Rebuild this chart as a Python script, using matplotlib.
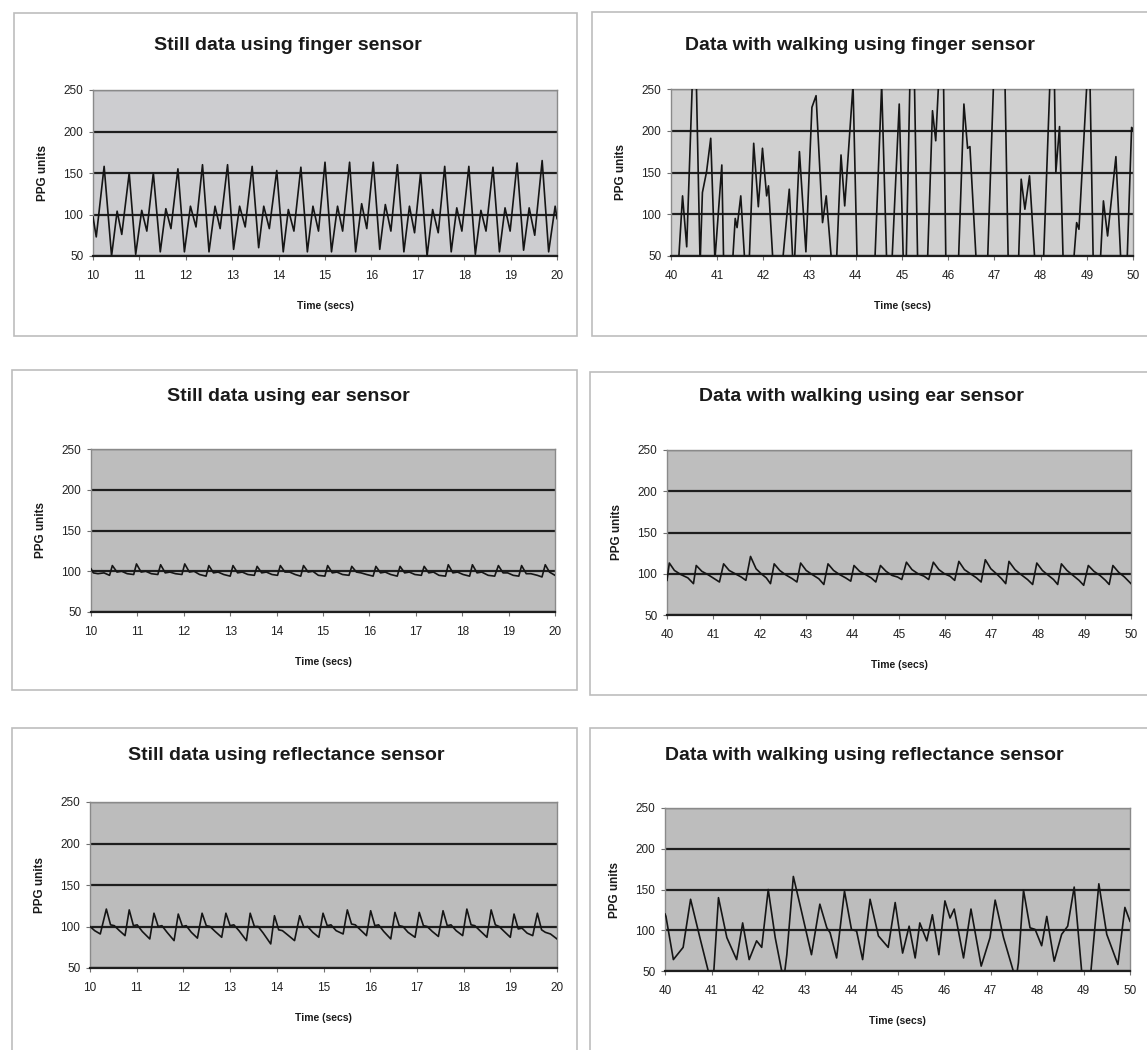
import matplotlib
matplotlib.use('Agg')
import matplotlib.pyplot as plt
from matplotlib.patches import Rectangle

plt.rcParams['font.family'] = ['Liberation Sans', 'DejaVu Sans']

# ---------------- data ----------------
still_ticks = list(range(10, 21))
walk_ticks = list(range(40, 51))
y_ticks = [50, 100, 150, 200, 250]

titles = ["Still data using finger sensor", "Data with walking using finger sensor",
          "Still data using ear sensor", "Data with walking using ear sensor",
          "Still data using reflectance sensor", "Data with walking using reflectance sensor"]
x_label = "Time (secs)"
y_label = "PPG units"

# Still, finger sensor
t1 = [10.00, 10.07,
      10.24, 10.40, 10.52, 10.62,
      10.78, 10.92, 11.05, 11.16,
      11.30, 11.45, 11.57, 11.68,
      11.83, 11.97, 12.10, 12.22,
      12.36, 12.50, 12.63, 12.74,
      12.90, 13.03, 13.16, 13.28,
      13.43, 13.57, 13.68, 13.80,
      13.96, 14.10, 14.21, 14.33,
      14.48, 14.62, 14.74, 14.86,
      15.00, 15.14, 15.27, 15.38,
      15.53, 15.66, 15.79, 15.90,
      16.04, 16.18, 16.30, 16.42,
      16.56, 16.70, 16.82, 16.93,
      17.06, 17.20, 17.32, 17.44,
      17.58, 17.72, 17.84, 17.95,
      18.10, 18.24, 18.36, 18.47,
      18.62, 18.76, 18.88, 18.99,
      19.14, 19.28, 19.40, 19.52,
      19.68, 19.82, 19.96, 20.00]
v1 = [97, 73,
      158, 50, 104, 76,
      150, 52, 105, 80,
      150, 55, 107, 83,
      155, 55, 110, 85,
      160, 55, 110, 83,
      160, 58, 110, 85,
      158, 60, 110, 83,
      153, 55, 106, 80,
      157, 55, 110, 80,
      163, 55, 110, 80,
      163, 55, 113, 83,
      163, 58, 112, 80,
      160, 55, 110, 78,
      150, 50, 106, 78,
      158, 55, 108, 80,
      158, 52, 105, 80,
      157, 55, 108, 80,
      162, 57, 108, 75,
      165, 55, 110, 95]

# Walking, finger sensor (values outside 50-250 are off-scale)
t2 = [40.00, 40.16, 40.25, 40.34, 40.46, 40.55, 40.63, 40.68, 40.77, 40.86, 40.95,
      41.10, 41.14, 41.33, 41.39, 41.43, 41.51, 41.60, 41.69, 41.79, 41.89, 41.98,
      42.07, 42.11, 42.21, 42.41, 42.56, 42.64, 42.67, 42.78, 42.92, 43.05, 43.14,
      43.28, 43.36, 43.48, 43.58, 43.68, 43.76, 43.94, 44.03, 44.41, 44.56, 44.67,
      44.78, 44.94, 45.03, 45.09, 45.17, 45.27, 45.34, 45.55, 45.66, 45.73, 45.79,
      45.90, 45.95, 46.22, 46.34, 46.42, 46.47, 46.61, 46.85, 46.98, 47.23, 47.30,
      47.52, 47.58, 47.66, 47.76, 47.88, 48.06, 48.20, 48.30, 48.33, 48.41, 48.49,
      48.71, 48.78, 48.83, 49.00, 49.07, 49.14, 49.29, 49.36, 49.45, 49.63, 49.74,
      49.87, 49.97, 50.00]
v2 = [30, 40, 122, 61, 255, 255, 40, 126, 151, 191, 45,
      159, 40, 40, 95, 84, 122, 40, 40, 185, 109, 179,
      122, 134, 40, 40, 130, 40, 40, 175, 55, 228, 242,
      90, 122, 40, 40, 171, 110, 255, 40, 40, 255, 40,
      40, 232, 40, 40, 255, 255, 40, 40, 224, 188, 255,
      255, 40, 40, 232, 179, 181, 40, 40, 255, 255, 40,
      40, 142, 106, 146, 40, 40, 255, 255, 150, 205, 40,
      40, 90, 82, 255, 255, 40, 40, 116, 74, 169, 40,
      40, 204, 200]

# Still, ear sensor
t3 = [10.00, 10.05, 10.15, 10.28,
      10.40, 10.46, 10.56, 10.66, 10.78,
      10.92, 10.98, 11.08, 11.18, 11.30,
      11.44, 11.50, 11.60, 11.70, 11.82,
      11.96, 12.02, 12.12, 12.22, 12.34,
      12.48, 12.54, 12.64, 12.74, 12.86,
      13.00, 13.06, 13.16, 13.26, 13.38,
      13.52, 13.58, 13.68, 13.78, 13.90,
      14.02, 14.08, 14.18, 14.28, 14.40,
      14.52, 14.58, 14.68, 14.78, 14.90,
      15.04, 15.10, 15.20, 15.30, 15.42,
      15.56, 15.62, 15.72, 15.82, 15.94,
      16.08, 16.14, 16.24, 16.34, 16.46,
      16.60, 16.66, 16.76, 16.86, 16.98,
      17.12, 17.18, 17.28, 17.38, 17.50,
      17.64, 17.70, 17.80, 17.90, 18.02,
      18.16, 18.22, 18.32, 18.42, 18.56,
      18.70, 18.78, 18.88, 18.98, 19.10,
      19.22, 19.28, 19.38, 19.48, 19.62,
      19.72, 19.79, 19.88, 20.00]
v3 = [103, 98, 97, 98,
      95, 107, 99, 100, 97,
      96, 109, 99, 100, 97,
      96, 108, 98, 99, 97,
      96, 109, 99, 100, 96,
      94, 107, 98, 99, 96,
      94, 107, 98, 99, 96,
      95, 106, 98, 99, 96,
      95, 107, 99, 99, 96,
      94, 107, 99, 100, 95,
      94, 107, 98, 99, 96,
      95, 106, 99, 98, 96,
      94, 106, 98, 99, 96,
      94, 106, 98, 99, 96,
      95, 106, 98, 99, 95,
      94, 108, 98, 99, 96,
      94, 108, 98, 99, 95,
      94, 107, 98, 98, 95,
      94, 107, 97, 97, 95,
      93, 108, 99, 95]

# Walking, ear sensor
t4 = [40.00,
      40.05, 40.16, 40.30, 40.45, 40.57,
      40.63, 40.75, 40.88, 41.02, 41.13,
      41.22, 41.34, 41.47, 41.60, 41.70,
      41.80, 41.92, 42.03, 42.14, 42.23,
      42.31, 42.43, 42.55, 42.70, 42.80,
      42.88, 43.00, 43.13, 43.27, 43.38,
      43.47, 43.59, 43.72, 43.85, 43.96,
      44.03, 44.15, 44.28, 44.40, 44.50,
      44.60, 44.72, 44.85, 44.97, 45.06,
      45.16, 45.28, 45.41, 45.54, 45.64,
      45.74, 45.86, 45.98, 46.10, 46.20,
      46.29, 46.41, 46.54, 46.67, 46.77,
      46.86, 46.98, 47.10, 47.21, 47.30,
      47.37, 47.50, 47.63, 47.77, 47.88,
      47.97, 48.09, 48.22, 48.33, 48.42,
      48.50, 48.62, 48.75, 48.88, 48.98,
      49.08, 49.20, 49.33, 49.45, 49.53,
      49.61, 49.73, 49.86, 50.00]
v4 = [92,
      113, 104, 99, 95, 88,
      110, 103, 99, 94, 90,
      112, 104, 100, 96, 92,
      121, 106, 100, 95, 88,
      112, 104, 99, 94, 90,
      113, 104, 99, 94, 87,
      112, 104, 99, 95, 91,
      110, 103, 99, 95, 90,
      110, 103, 98, 96, 93,
      114, 105, 100, 97, 93,
      114, 105, 100, 97, 92,
      115, 105, 100, 95, 90,
      117, 106, 100, 94, 88,
      115, 105, 99, 93, 87,
      113, 104, 98, 93, 87,
      112, 104, 98, 92, 86,
      110, 103, 98, 92, 87,
      110, 102, 96, 88]

# Still, reflectance sensor
t5 = [10.00, 10.10, 10.22,
      10.35, 10.44, 10.52, 10.63, 10.75,
      10.84, 10.93, 11.01, 11.12, 11.28,
      11.37, 11.46, 11.54, 11.65, 11.80,
      11.89, 11.98, 12.06, 12.17, 12.30,
      12.40, 12.49, 12.57, 12.68, 12.82,
      12.91, 13.00, 13.08, 13.19, 13.35,
      13.43, 13.52, 13.60, 13.71, 13.87,
      13.95, 14.04, 14.12, 14.23, 14.38,
      14.49, 14.58, 14.66, 14.77, 14.90,
      14.99, 15.08, 15.16, 15.27, 15.42,
      15.51, 15.60, 15.68, 15.79, 15.92,
      16.01, 16.10, 16.18, 16.29, 16.44,
      16.53, 16.62, 16.70, 16.81, 16.96,
      17.05, 17.14, 17.22, 17.33, 17.46,
      17.56, 17.65, 17.73, 17.84, 17.98,
      18.07, 18.16, 18.24, 18.35, 18.50,
      18.59, 18.68, 18.76, 18.87, 19.00,
      19.08, 19.17, 19.25, 19.36, 19.48,
      19.58, 19.67, 19.75, 19.86, 20.00]
v5 = [100, 95, 91,
      121, 102, 101, 95, 89,
      120, 101, 102, 94, 85,
      116, 100, 101, 93, 83,
      115, 100, 101, 93, 86,
      116, 101, 100, 94, 87,
      116, 101, 102, 95, 83,
      116, 100, 100, 92, 79,
      113, 96, 95, 90, 83,
      113, 99, 100, 93, 87,
      116, 101, 102, 95, 91,
      120, 103, 102, 96, 89,
      119, 101, 102, 94, 85,
      117, 101, 100, 93, 87,
      117, 101, 100, 94, 88,
      119, 101, 102, 95, 89,
      121, 102, 101, 95, 87,
      120, 102, 100, 94, 87,
      115, 97, 98, 92, 89,
      116, 96, 93, 91, 85]

# Walking, reflectance sensor
t6 = [40.00, 40.02, 40.18, 40.39, 40.55, 40.75, 40.93, 41.00, 41.05, 41.15,
      41.33, 41.54, 41.67, 41.81, 41.97, 42.08, 42.22, 42.37, 42.51, 42.56,
      42.62, 42.76, 42.90, 43.15, 43.33, 43.48, 43.55, 43.69, 43.86, 44.01,
      44.12, 44.25, 44.41, 44.59, 44.80, 44.95, 45.11, 45.25, 45.38, 45.48,
      45.63, 45.75, 45.89, 46.02, 46.13, 46.22, 46.42, 46.58, 46.80, 46.99,
      47.10, 47.28, 47.49, 47.55, 47.60, 47.71, 47.85, 47.96, 48.10, 48.21,
      48.37, 48.53, 48.66, 48.80, 48.96, 49.06, 49.16, 49.33, 49.50, 49.74,
      49.89, 50.00]
v6 = [120, 117, 64, 79, 138, 91, 50, 40, 50, 140,
      91, 64, 109, 64, 87, 79, 150, 91, 50, 42,
      70, 166, 132, 70, 132, 103, 97, 66, 148, 101,
      99, 64, 138, 93, 79, 134, 72, 105, 66, 109,
      87, 119, 70, 136, 115, 126, 66, 126, 56, 91,
      137, 91, 50, 40, 60, 149, 103, 101, 81, 117,
      62, 95, 105, 153, 50, 30, 50, 157, 95, 58,
      128, 111]

series_t = [t1, t2, t3, t4, t5, t6]
series_v = [v1, v2, v3, v4, v5, v6]

# ---------------- layout (pixels) ----------------
W, H = 1147, 1050
fig = plt.figure(figsize=(W / 100, H / 100), dpi=100)
fig.patch.set_facecolor('white')

frames = [(14, 13, 577, 336), (592, 12, 1160, 336),
          (12, 370, 577, 690), (590, 372, 1160, 695),
          (12, 728, 577, 1060), (590, 728, 1160, 1060)]
plots = [(93, 90, 557, 256), (671, 89, 1133, 256),
         (91, 449, 555, 612), (667, 450, 1131, 615),
         (90, 802, 557, 968), (665, 808, 1130, 971)]
title_xy = [(288, 45), (860, 45), (288, 397), (861, 397), (286, 756), (864, 756)]
bgs = ['#cdcdd0', '#d0d0d0', '#bdbdbd', '#bebebe', '#bcbcbc', '#bdbdbd']


def fx(px):
    return px / W


def fy(py):
    return 1 - py / H


for i in range(6):
    fx0, fy0, fx1, fy1 = frames[i]
    fig.patches.append(Rectangle((fx(fx0), fy(fy1)), fx(fx1 - fx0), (fy1 - fy0) / H,
                                 transform=fig.transFigure, facecolor='white',
                                 edgecolor='#bdbdbd', linewidth=1.2, zorder=-5))
    x0, y0, x1, y1 = plots[i]
    ax = fig.add_axes([fx(x0), fy(y1), fx(x1 - x0), (y1 - y0) / H])
    ax.set_zorder(2)
    ax.set_facecolor(bgs[i])
    ax.plot(series_t[i], series_v[i], color='#151515', linewidth=1.2, zorder=3,
            solid_joinstyle='round')
    ticks = still_ticks if i % 2 == 0 else walk_ticks
    ax.set_xlim(ticks[0], ticks[-1])
    ax.set_ylim(50, 250)
    ax.set_xticks(ticks)
    ax.set_yticks(y_ticks)
    ax.grid(axis='y', color='#1e1e1e', linewidth=1.6, zorder=1)
    ax.grid(axis='x', visible=False)
    ax.tick_params(axis='both', labelsize=8.5, length=3, width=0.8,
                   color='#707070', labelcolor='#222222', pad=4)
    ax.tick_params(axis='x', pad=7)
    for s in ['left', 'right', 'top']:
        ax.spines[s].set_color('#8a8a8a')
        ax.spines[s].set_linewidth(1.0)
    ax.spines['bottom'].set_color('#1e1e1e')
    ax.spines['bottom'].set_linewidth(1.6)
    tx, ty = title_xy[i]
    fig.text(fx(tx), fy(ty), titles[i], ha='center', va='center',
             fontsize=14, fontweight='bold', color='#1a1a1a', zorder=3)
    fig.text(fx((x0 + x1) / 2), fy(y1 + 50), x_label, ha='center', va='center',
             fontsize=7.5, fontweight='bold', color='#1a1a1a', zorder=3)
    fig.text(fx(x0 - 50), fy((y0 + y1) / 2), y_label, ha='center', va='center',
             rotation=90, fontsize=8.5, fontweight='bold', color='#1a1a1a', zorder=3)

fig.savefig('out.png', dpi=100, facecolor='white')
